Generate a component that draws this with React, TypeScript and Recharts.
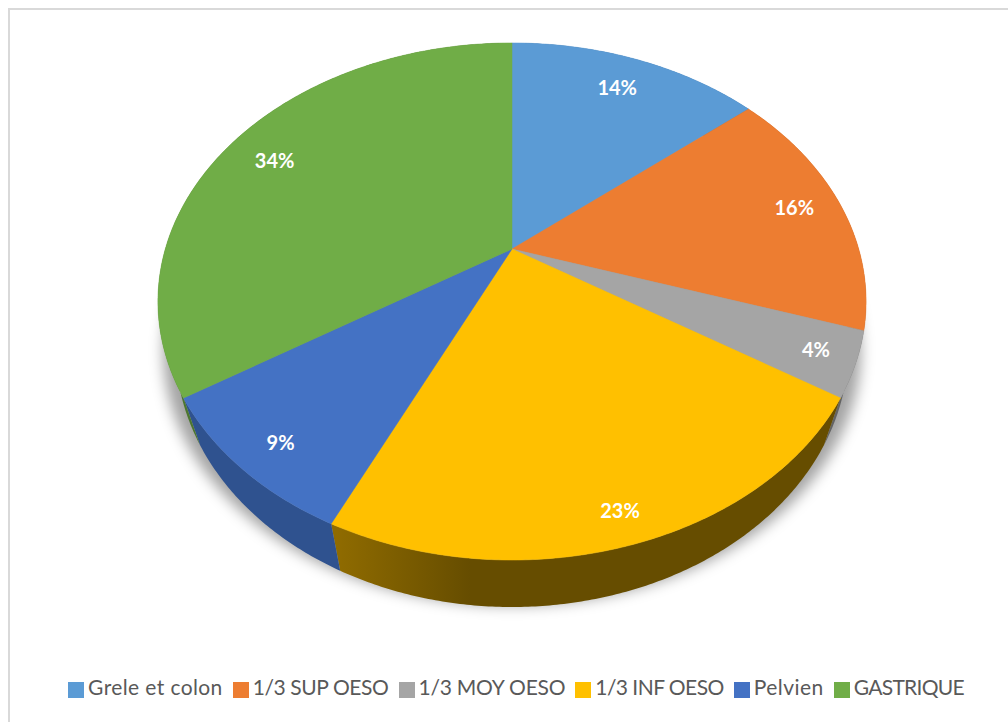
import React from "react";
import { PieChart, Pie, Legend } from "recharts";

const WIDTH = 1008;
const HEIGHT = 722;

const categories = ["Grele et colon", "1/3 SUP OESO", "1/3 MOY OESO", "1/3 INF OESO", "Pelvien", "GASTRIQUE"];
const shares = [14, 16, 4, 23, 9, 34];
const topColors = ["#5b9bd5", "#ed7d31", "#a5a5a5", "#ffc000", "#4472c4", "#70ad47"];
const wallNearColors = ["#3b6c99", "#a1541f", "#6f6f6f", "#8f6b00", "#2f528f", "#4c7630"];
const wallFarColors = ["#3b6c99", "#a1541f", "#636363", "#664d00", "#2b4a80", "#44692b"];
// Label distance from the centre, as a fraction of the disc radius, plus a vertical nudge in pixels.
const labelReach = [0.82, 0.856, 0.894, 0.917, 0.875, 0.846];
const labelNudgeY = [-2, -3, -2, -5, 5, 4];
// Tracking per legend entry: capitals run wide in this face.
const legendTracking = [0.39, -0.4, -0.23, -0.55, 0.46, -0.72];

const rows = categories.map((name, i) => ({ name, value: shares[i], fill: topColors[i], index: i }));
const wholeDisc = [{ name: "disc", value: shares.reduce((a, b) => a + b, 0) }];

// Tilted-disc projection: a point on the circle is foreshortened vertically and
// scaled by its distance along the viewing axis.
const FORESHORTEN = 0.715;
const PERSPECTIVE = -0.203;
const WALL_DEPTH = 47;
const WALL_SHRINK = 0.95;

type Pt = { x: number; y: number };

function project(cx: number, cy: number, radius: number, chartAngle: number, reach = 1): Pt {
  const t = ((90 - chartAngle) * Math.PI) / 180;
  const u = Math.sin(t) * reach;
  const v = -Math.cos(t) * reach;
  const d = 1 + PERSPECTIVE * v;
  return { x: cx + (radius * u) / d, y: cy + (radius * FORESHORTEN * v) / d };
}

function arcPoints(cx: number, cy: number, radius: number, from: number, to: number): Pt[] {
  const steps = Math.max(2, Math.ceil(Math.abs(to - from) * 2));
  const pts: Pt[] = [];
  for (let i = 0; i <= steps; i++) {
    pts.push(project(cx, cy, radius, from + ((to - from) * i) / steps));
  }
  return pts;
}

const toPath = (pts: Pt[]) =>
  pts.map((p, i) => `${i ? "L" : "M"}${p.x.toFixed(2)} ${p.y.toFixed(2)}`).join(" ") + " Z";

function TopSector(props: any) {
  const { cx, cy, outerRadius, startAngle, endAngle, fill } = props;
  const pts = [{ x: cx, y: cy }, ...arcPoints(cx, cy, outerRadius, startAngle, endAngle)];
  return <path d={toPath(pts)} fill={fill} stroke={fill} strokeWidth={0.5} />;
}

function WallSector(props: any) {
  const { cx, cy, outerRadius, startAngle, endAngle, index } = props;
  const rim = arcPoints(cx, cy, outerRadius, startAngle, endAngle);
  const lower = rim
    .map((p) => ({ x: cx + (p.x - cx) * WALL_SHRINK, y: p.y + WALL_DEPTH }))
    .reverse();
  const id = `wall-${index}`;
  return (
    <g>
      <defs>
        <linearGradient id={id} gradientUnits="userSpaceOnUse" x1={337} x2={470} y1={0} y2={0}>
          <stop offset="0" stopColor={wallNearColors[index]} />
          <stop offset="1" stopColor={wallFarColors[index]} />
        </linearGradient>
      </defs>
      <path d={toPath([...rim, ...lower])} fill={`url(#${id})`} />
    </g>
  );
}

function DropShadow(props: any) {
  const { cx, cy, outerRadius, startAngle, endAngle } = props;
  const pts = arcPoints(cx, cy + 50, outerRadius * 0.985, startAngle, endAngle);
  return (
    <g>
      <defs>
        <filter id="disc-shadow" x="-10%" y="-10%" width="120%" height="120%">
          <feGaussianBlur stdDeviation="7" />
        </filter>
      </defs>
      <path d={toPath(pts)} fill="#000" fillOpacity={0.36} filter="url(#disc-shadow)" />
    </g>
  );
}

function PercentLabel(props: any) {
  const { cx, cy, outerRadius, midAngle, index, value } = props;
  const p = project(cx, cy, outerRadius, midAngle, labelReach[index]);
  return (
    <text x={p.x} y={p.y + labelNudgeY[index]} fill="#fff" textAnchor="middle" dominantBaseline="central"
      fontFamily="Lato, sans-serif" fontWeight={700} fontSize={20}>
      {`${value}%`}
    </text>
  );
}

const pieFrame = {
  cx: 512,
  cy: 249,
  innerRadius: 0,
  outerRadius: 346.7,
  startAngle: 90,
  endAngle: -270,
  stroke: "none",
  isAnimationActive: false,
};

export default function App() {
  return (
    <div style={{ position: "absolute", left: 0, top: 0, width: WIDTH, height: HEIGHT, background: "#fff", overflow: "hidden" }}>
      <div style={{ position: "absolute", left: 8, top: 8, width: 1010, height: 730, boxSizing: "border-box", border: "2px solid #d9d9d9" }} />
      <div style={{ position: "absolute", left: 0, top: 0 }}>
        <PieChart width={WIDTH} height={HEIGHT} margin={{ top: 0, right: 0, bottom: 0, left: 0 }}>
          <Pie {...pieFrame} data={wholeDisc} dataKey="value" legendType="none" shape={DropShadow} />
          <Pie {...pieFrame} data={rows} dataKey="value" legendType="none" shape={WallSector} />
          <Pie {...pieFrame} data={rows} dataKey="value" nameKey="name" legendType="square"
            shape={TopSector} label={PercentLabel} labelLine={false} />
          <Legend
            iconSize={16}
            itemSorter={null}
            wrapperStyle={{ left: 0, width: 1042, bottom: 23, fontFamily: "Lato, sans-serif", fontSize: 21 }}
            formatter={(v: string) => (
              <span style={{ color: "#595959", letterSpacing: legendTracking[categories.indexOf(v)] }}>{v}</span>
            )}
          />
        </PieChart>
      </div>
    </div>
  );
}
